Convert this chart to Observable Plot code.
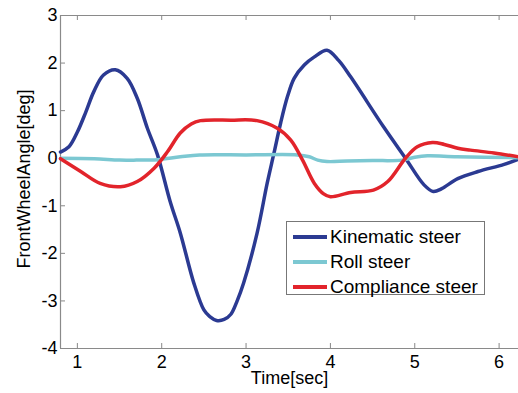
<!DOCTYPE html>
<html><head><meta charset="utf-8">
<script src="https://cdn.jsdelivr.net/npm/d3@7"></script>
<script src="https://cdn.jsdelivr.net/npm/@observablehq/plot@0.6"></script>
<style>
body{margin:0;background:#fff;font-family:"Liberation Sans",Arial,sans-serif;}
#wrap{position:relative;width:518px;height:393px;overflow:hidden;}
#legend{position:absolute;left:286px;top:221px;width:199px;height:74px;border:1px solid #777;background:#fff;font-size:19px;padding-top:2px;box-sizing:border-box;}
.row{display:flex;align-items:center;height:25px;}
.sw{width:34px;height:4px;margin-left:6px;margin-right:3px;}
</style>
</head><body>
<div id="wrap"><div id="legend"></div></div>
<script>
const seriesNames = ["Kinematic steer", "Roll steer", "Compliance steer"];
const seriesColors = ["#2b3a92", "#7cc8d2", "#e2242b"];
const xTicks = [1, 2, 3, 4, 5, 6];
const yTicks = [-4, -3, -2, -1, 0, 1, 2, 3];
const xDomain = [0.8, 6.23];
const yDomain = [-4, 3];

const kinT = [0.8,0.9,1.0,1.1,1.195,1.31,1.45,1.59,1.71,1.83,1.95,2.1,2.22,2.38,2.5,2.57,2.65,2.74,2.82,2.89,2.97,3.13,3.25,3.33,3.41,3.49,3.57,3.69,3.81,3.96,4.1,4.24,4.63,4.89,5.11,5.22,5.32,5.51,5.75,6.06,6.23];
const kinV = [0.13,0.24,0.55,0.97,1.40,1.75,1.86,1.68,1.26,0.63,0.07,-0.91,-1.57,-2.62,-3.19,-3.33,-3.41,-3.39,-3.28,-3.02,-2.63,-1.58,-0.53,0.10,0.74,1.29,1.68,1.96,2.13,2.27,2.05,1.71,0.66,0.0,-0.56,-0.70,-0.64,-0.43,-0.28,-0.13,-0.02];

const rollT = [0.8,1.2,1.5,1.7,1.95,2.22,2.45,3.0,3.61,3.75,3.85,3.96,4.2,4.5,4.85,5.0,5.15,5.5,6.23];
const rollV = [0.0,-0.01,-0.04,-0.04,-0.03,0.03,0.07,0.07,0.07,0.03,-0.04,-0.07,-0.06,-0.05,-0.04,0.02,0.05,0.03,0.01];

const compT = [0.8,1.04,1.27,1.51,1.71,1.91,2.07,2.22,2.35,2.46,2.82,3.13,3.37,3.53,3.67,3.81,3.92,4.0,4.24,4.51,4.68,4.89,5.03,5.21,5.35,5.51,5.66,5.94,6.23];
const compV = [-0.01,-0.28,-0.53,-0.6,-0.49,-0.21,0.14,0.53,0.72,0.79,0.80,0.79,0.63,0.38,-0.04,-0.53,-0.75,-0.81,-0.72,-0.67,-0.49,0.0,0.24,0.33,0.29,0.21,0.17,0.11,0.03];

const series = [[kinT, kinV], [rollT, rollV], [compT, compV]];
const rows = series.flatMap(([ts, vs], i) => ts.map((t, j) => ({t, v: vs[j], s: seriesNames[i]})));

const W = 518, H = 393, mL = 60, mT = 15, mB = 45, mR = 0;
const fw = W - mL - mR, fh = H - mT - mB, tl = 5;
const font = "Liberation Sans, Arial, Helvetica, sans-serif";

const chart = Plot.plot({
  width: W, height: H, marginLeft: mL, marginTop: mT, marginBottom: mB, marginRight: mR,
  style: {fontFamily: font, fontSize: "18px", background: "white", color: "#000", overflow: "visible"},
  x: {domain: xDomain, label: null},
  y: {domain: yDomain, label: null},
  color: {domain: seriesNames, range: seriesColors},
  marks: [
    Plot.axisX({ticks: xTicks, tickSize: 0, tickPadding: 7, tickFormat: d => String(d), fontSize: 18, label: null}),
    Plot.axisY({ticks: yTicks, tickSize: 0, tickPadding: 3, tickFormat: d => String(d), fontSize: 18, label: null}),
    Plot.tickX(xTicks, {x: d => d, insetTop: fh - tl, stroke: "#888"}),
    Plot.tickX(xTicks, {x: d => d, insetBottom: fh - tl, stroke: "#888"}),
    Plot.tickY(yTicks, {y: d => d, insetRight: fw - tl, stroke: "#888"}),
    Plot.ruleY([yDomain[0], yDomain[1]], {stroke: "#8a8a8a", strokeWidth: 1.2}),
    Plot.ruleX([xDomain[0]], {stroke: "#8a8a8a", strokeWidth: 1.2}),
    Plot.line(rows, {x: "t", y: "v", z: "s", stroke: "s", strokeWidth: 3.5, curve: "catmull-rom"}),
    Plot.text(["Time[sec]"], {text: d => d, frameAnchor: "bottom", dy: 35, fontSize: 18}),
    Plot.text(["FrontWheelAngle[deg]"], {text: d => d, frameAnchor: "left", textAnchor: "middle", dx: -36, dy: -3, rotate: -90, fontSize: 18})
  ]
});
document.getElementById("wrap").prepend(chart);

const leg = document.getElementById("legend");
seriesNames.forEach((n, i) => {
  const r = document.createElement("div"); r.className = "row";
  const sw = document.createElement("div"); sw.className = "sw"; sw.style.background = seriesColors[i];
  const tx = document.createElement("span"); tx.textContent = n;
  r.append(sw, tx); leg.append(r);
});
</script>
</body></html>
